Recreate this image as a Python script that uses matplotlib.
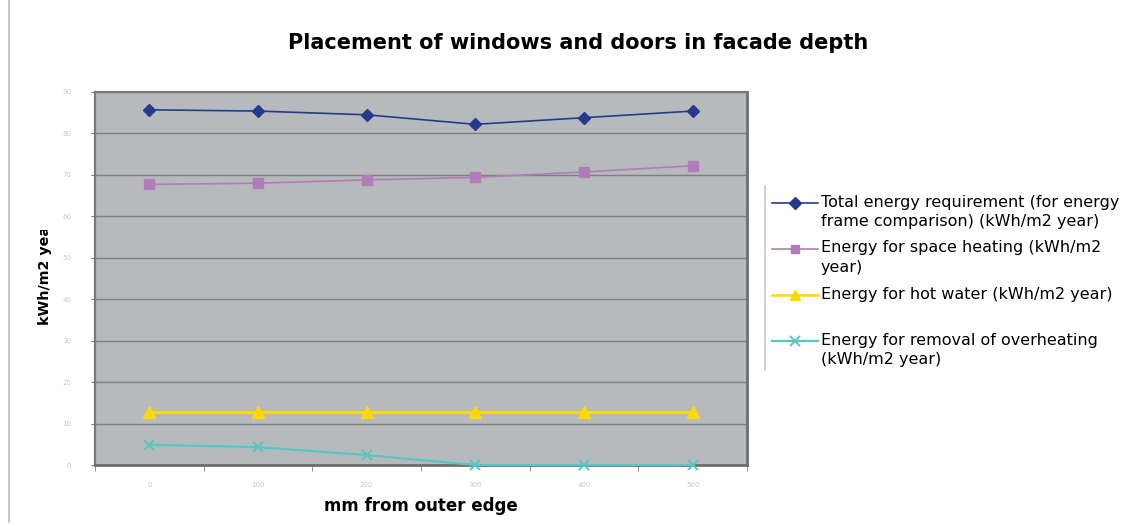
import matplotlib
matplotlib.use("Agg")
import matplotlib.pyplot as plt
from matplotlib.lines import Line2D
from matplotlib.transforms import Bbox

# ---- data ----
x_labels = ["0", "100", "200", "300", "400", "500"]
y_ticks = [0, 10, 20, 30, 40, 50, 60, 70, 80, 90]
total_energy = [85.7, 85.4, 84.5, 82.2, 83.8, 85.4]
space_heating = [67.7, 68.0, 68.8, 69.4, 70.7, 72.2]
hot_water = [12.8, 12.8, 12.8, 12.8, 12.8, 12.8]
overheating = [4.9, 4.3, 2.4, 0.0, 0.0, 0.0]

series_labels = [
    "Total energy requirement (for energy\nframe comparison) (kWh/m2 year)",
    "Energy for space heating (kWh/m2\nyear)",
    "Energy for hot water (kWh/m2 year)",
    "Energy for removal of overheating\n(kWh/m2 year)",
]
title = "Placement of windows and doors in facade depth"
xlabel = "mm from outer edge"
ylabel = "kWh/m2 year"

W, H = 1142, 526
fig = plt.figure(figsize=(W / 100, H / 100), dpi=100)
plt.rcParams['font.family'] = ['DejaVu Sans']

def fx(px):
    return px / W

def fy(py):
    return 1 - py / H

ax = fig.add_axes([fx(95), fy(465), fx(747) - fx(95), fy(92) - fy(465)])
ax.set_facecolor('#B6BABD')

xs = list(range(len(x_labels)))
styles = [
    dict(color='#27398C', marker='D', markersize=6.5, lw=1.2),
    dict(color='#B17DB9', marker='s', markersize=6.5, lw=1.2),
    dict(color='#FFD800', marker='^', markersize=8, lw=2.2),
    dict(color='#58C6C4', marker='x', markersize=7.5, lw=1.6, mew=1.4),
]
data = [total_energy, space_heating, hot_water, overheating]
for vals, st in zip(data, styles):
    ax.plot(xs, vals, clip_on=False, zorder=3, **st)

ax.set_xlim(-0.5, len(x_labels) - 0.5)
ax.set_ylim(0, 90)
ax.set_yticks(y_ticks)
ax.set_yticklabels([str(v) for v in y_ticks], fontsize=5, color='#C8C8C8')
ax.set_xticks(xs)
ax.set_xticklabels(x_labels, fontsize=5, color='#C8C8C8')
ax.set_xticks([i - 0.5 for i in range(len(x_labels) + 1)], minor=True)
ax.tick_params(axis='x', which='major', length=0, pad=12)
ax.tick_params(axis='x', which='minor', length=4, color='#808080', direction='out')
ax.tick_params(axis='y', length=3, color='#808080', direction='out', pad=14)
ax.grid(axis='y', color='#7F7F7F', lw=1.0, zorder=1)
ax.set_axisbelow(True)
for side in ['top', 'left']:
    ax.spines[side].set_color('#7A7A7A')
    ax.spines[side].set_linewidth(1.6)
for side in ['right', 'bottom']:
    ax.spines[side].set_color('#6E6E6E')
    ax.spines[side].set_linewidth(2.0)

fig.text(fx(578), fy(43), title, ha='center', va='center', fontsize=15, fontweight='bold')
fig.text(fx(421), fy(506), xlabel, ha='center', va='center', fontsize=12, fontweight='bold')
yl = fig.text(fx(45), fy(325), ylabel, ha='center', va='bottom', rotation=90,
              fontsize=10.3, fontweight='bold')
yl.set_clip_box(Bbox.from_extents(0, 0, W, fy(230) * H))
yl.set_clip_on(True)

# border lines
fig.add_artist(Line2D([fx(9), fx(9)], [fy(0), fy(522)], color='#BDBDBD', lw=1.2))
fig.add_artist(Line2D([fx(765), fx(765)], [fy(186), fy(370)], color='#C8C8C8', lw=1.2))

# legend (Excel-style: handle aligned with first text line)
leg_top = 202.5
pitch = 46
for i, (lab, st) in enumerate(zip(series_labels, styles)):
    yy = fy(leg_top + i * pitch)
    fig.add_artist(Line2D([fx(772), fx(818)], [yy, yy], color=st['color'],
                          lw=st['lw'] if st['lw'] < 2 else 1.8))
    fig.add_artist(Line2D([fx(795)], [yy], color=st['color'], marker=st['marker'],
                          markersize=st['markersize'] * 0.9, mew=st.get('mew', 1), lw=0))
    fig.text(fx(821), yy + 8 / H, lab, ha='left', va='top', fontsize=11.5, linespacing=1.4)

fig.savefig('out.png', dpi=100)
